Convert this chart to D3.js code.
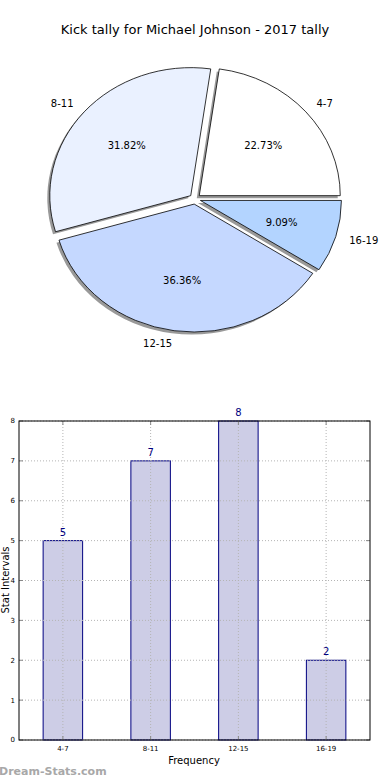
<!DOCTYPE html>
<html>
<head>
<meta charset="utf-8">
<script src="https://cdn.jsdelivr.net/npm/d3@7"></script>
<style>
  body { margin: 0; background: #fff; }
  svg { display: block; font-family: "DejaVu Sans", sans-serif; }
</style>
</head>
<body>
<svg id="chart" width="390" height="780"></svg>
<script>
// data
const categories = ["4-7", "8-11", "12-15", "16-19"];
const tally = [5, 7, 8, 2];
const sliceColors = ["#ffffff", "#eaf1ff", "#c5d8ff", "#b3d4ff"];
const yTicks = [0, 1, 2, 3, 4, 5, 6, 7, 8];

const svg = d3.select("#chart");

// title
svg.append("text")
  .attr("x", 195).attr("y", 34)
  .attr("text-anchor", "middle")
  .attr("font-size", 13)
  .text("Kick tally for Michael Johnson - 2017 tally");

// ---- pie (ellipse, like the squashed matplotlib one) ----
const cx = 195, cy = 199, rx = 141, ry = 128;
const explode = 0.04;
const total = d3.sum(tally);

// matplotlib starts at 3 o'clock and goes counterclockwise
const pie = d3.pie().sort(null).startAngle(Math.PI / 2).endAngle(Math.PI / 2 - 2 * Math.PI);
const arcs = pie(tally);
const arc = d3.arc().innerRadius(0).outerRadius(1);

// point on the ellipse for a d3 angle
function pt(a, r) {
  return [Math.sin(a) * r * rx, -Math.cos(a) * r * ry];
}

const pg = svg.append("g").attr("transform", "translate(" + cx + "," + cy + ")");

arcs.forEach(function (d, i) {
  const mid = (d.startAngle + d.endAngle) / 2;
  const off = pt(mid, explode);

  // shadow first
  pg.append("path")
    .attr("d", arc(d))
    .attr("transform", "translate(" + (off[0] - 2.5) + "," + (off[1] + 2.5) + ") scale(" + rx + "," + ry + ")")
    .attr("fill", "#000")
    .attr("opacity", 0.4);

  pg.append("path")
    .attr("d", arc(d))
    .attr("transform", "translate(" + off[0] + "," + off[1] + ") scale(" + rx + "," + ry + ")")
    .attr("fill", sliceColors[i])
    .attr("stroke", "#000")
    .attr("stroke-width", 0.8)
    .attr("vector-effect", "non-scaling-stroke");
});

arcs.forEach(function (d, i) {
  const mid = (d.startAngle + d.endAngle) / 2;
  const off = pt(mid, explode);
  const lp = pt(mid, 1.1);
  const pp = pt(mid, 0.6);

  svg.append("text")
    .attr("x", cx + off[0] + lp[0])
    .attr("y", cy + off[1] + lp[1])
    .attr("dy", "0.35em")
    .attr("text-anchor", lp[0] > 0 ? "start" : "end")
    .attr("font-size", 10)
    .text(categories[i]);

  svg.append("text")
    .attr("x", cx + off[0] + pp[0])
    .attr("y", cy + off[1] + pp[1])
    .attr("dy", "0.35em")
    .attr("text-anchor", "middle")
    .attr("font-size", 10)
    .text((d.value / total * 100).toFixed(2) + "%");
});

// ---- bar chart ----
const plotL = 19, plotR = 370, plotT = 421, plotB = 740;

const x = d3.scaleLinear().domain([-0.5, categories.length - 0.5]).range([plotL, plotR]);
const y = d3.scaleLinear().domain([0, 8]).range([plotB, plotT]);
const barW = x(0.45) - x(0);

const bg = svg.append("g");

// bars
bg.selectAll("rect.bar")
  .data(tally)
  .enter()
  .append("rect")
  .attr("class", "bar")
  .attr("x", (d, i) => x(i) - barW / 2)
  .attr("y", d => y(d))
  .attr("width", barW)
  .attr("height", d => y(0) - y(d))
  .attr("fill", "#cdcde6")
  .attr("stroke", "#000080")
  .attr("stroke-width", 1);

// dotted grid on top of bars
bg.selectAll("line.hgrid")
  .data(yTicks)
  .enter()
  .append("line")
  .attr("x1", plotL).attr("x2", plotR)
  .attr("y1", d => y(d)).attr("y2", d => y(d))
  .attr("stroke", "#b4b4b4")
  .attr("stroke-width", 1)
  .attr("stroke-dasharray", "1,2");

bg.selectAll("line.vgrid")
  .data(categories)
  .enter()
  .append("line")
  .attr("x1", (d, i) => x(i)).attr("x2", (d, i) => x(i))
  .attr("y1", plotT).attr("y2", plotB)
  .attr("stroke", "#b4b4b4")
  .attr("stroke-width", 1)
  .attr("stroke-dasharray", "1,2");

// inward ticks on all four sides
const tickLen = 4;
yTicks.forEach(function (t) {
  bg.append("line").attr("x1", plotL).attr("x2", plotL + tickLen)
    .attr("y1", y(t)).attr("y2", y(t)).attr("stroke", "#888");
  bg.append("line").attr("x1", plotR).attr("x2", plotR - tickLen)
    .attr("y1", y(t)).attr("y2", y(t)).attr("stroke", "#888");
});
categories.forEach(function (c, i) {
  bg.append("line").attr("x1", x(i)).attr("x2", x(i))
    .attr("y1", plotB).attr("y2", plotB - tickLen).attr("stroke", "#888");
  bg.append("line").attr("x1", x(i)).attr("x2", x(i))
    .attr("y1", plotT).attr("y2", plotT + tickLen).attr("stroke", "#888");
});

// frame
bg.append("rect")
  .attr("x", plotL).attr("y", plotT)
  .attr("width", plotR - plotL).attr("height", plotB - plotT)
  .attr("fill", "none")
  .attr("stroke", "#000")
  .attr("stroke-width", 1);

// tick labels
bg.selectAll("text.ytick")
  .data(yTicks)
  .enter()
  .append("text")
  .attr("x", plotL - 4)
  .attr("y", d => y(d))
  .attr("dy", "0.35em")
  .attr("text-anchor", "end")
  .attr("font-size", 7)
  .text(d => d);

bg.selectAll("text.xtick")
  .data(categories)
  .enter()
  .append("text")
  .attr("x", (d, i) => x(i))
  .attr("y", plotB + 11)
  .attr("text-anchor", "middle")
  .attr("font-size", 7)
  .text(d => d);

// value labels
bg.selectAll("text.val")
  .data(tally)
  .enter()
  .append("text")
  .attr("x", (d, i) => x(i))
  .attr("y", d => y(d) - 5)
  .attr("text-anchor", "middle")
  .attr("font-size", 10)
  .attr("fill", "#000080")
  .text(d => d);

// axis titles
svg.append("text")
  .attr("x", 194).attr("y", 764)
  .attr("text-anchor", "middle")
  .attr("font-size", 10)
  .text("Frequency");

svg.append("text")
  .attr("transform", "translate(9,580) rotate(-90)")
  .attr("text-anchor", "middle")
  .attr("font-size", 10)
  .text("Stat Intervals");

// watermark
svg.append("text")
  .attr("x", -1).attr("y", 775)
  .attr("font-size", 11)
  .attr("font-weight", "bold")
  .attr("fill", "#a8a8a8")
  .text("Dream-Stats.com");
</script>
</body>
</html>
